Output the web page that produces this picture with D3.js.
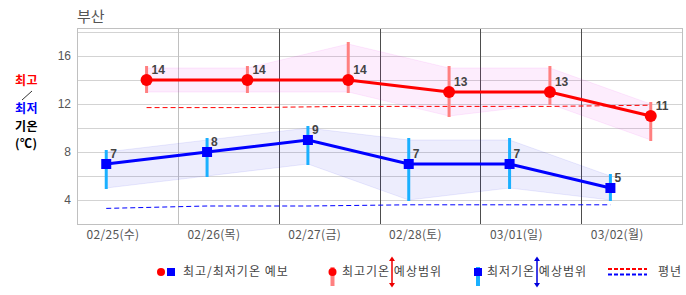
<!DOCTYPE html>
<html>
<head>
<meta charset="utf-8">
<script src="https://cdn.jsdelivr.net/npm/d3@7"></script>
<style>
	body { margin: 0; background: #fff; }
	svg { display: block; font-family: "Noto Sans CJK KR", sans-serif; }
</style>
</head>
<body>
<svg></svg>
<script>
const dates = ["02/25(수)", "02/26(목)", "02/27(금)", "02/28(토)", "03/01(일)", "03/02(월)"];
const highTemp = [14, 14, 14, 13, 13, 11];
const highMax = [15, 15, 17, 15, 15, 12];
const highMin = [13, 13, 13, 11, 12, 9];
const lowTemp = [7, 8, 9, 7, 7, 5];
const lowMax = [8, 9, 10, 9, 9, 6];
const lowMin = [5, 6, 7, 4, 5, 4];
const highNormal = [11.7, 11.7, 11.8, 11.8, 11.8, 11.9];
const lowNormal = [3.3, 3.5, 3.5, 3.6, 3.6, 3.6];
const yTicks = [4, 8, 12, 16];
const gridValues = [2, 4, 6, 8, 10, 12, 14, 16, 18];

const size = { w: 686, h: 295 };
const plot = { l: 77, r: 682, t: 28, b: 224 };
const svg = d3.select("svg").attr("width", size.w).attr("height", size.h);

const x = d3.scaleBand().domain(dates).range([plot.l, plot.r]);
const y = d3.scaleLinear().domain([2, 18]).range([plot.b, 32]);
const bw = x.bandwidth();
// blue points sit left in each column, red points further right
const xLow = (i) => x(dates[i]) + bw * 0.29;
const xHigh = (i) => x(dates[i]) + bw * 0.69;

// title
svg.append("text").attr("x", 77).attr("y", 22)
	.attr("font-size", 15).attr("fill", "#555").text("부산");

// left label
const lab = svg.append("g").attr("font-size", 12).attr("font-weight", "bold")
	.attr("letter-spacing", 0.5);
lab.append("text").attr("x", 15).attr("y", 85).attr("fill", "#f00").text("최고");
lab.append("line").attr("x1", 32).attr("y1", 91).attr("x2", 22).attr("y2", 100)
	.attr("stroke", "#000").attr("stroke-width", 0.8);
lab.append("text").attr("x", 15).attr("y", 113).attr("fill", "#00f").text("최저");
lab.append("text").attr("x", 15).attr("y", 131).attr("fill", "#000").text("기온");
lab.append("text").attr("x", 15).attr("y", 148).attr("fill", "#000").text("(℃)");

// grid
const grid = svg.append("g");
grid.selectAll("line.h").data(gridValues).enter().append("line")
	.attr("x1", plot.l).attr("x2", plot.r)
	.attr("y1", (d) => y(d) + 0.5).attr("y2", (d) => y(d) + 0.5)
	.attr("stroke", "#d3d3d3");
grid.selectAll("line.v").data(dates.slice(1)).enter().append("line")
	.attr("x1", (d) => Math.round(x(d)) + 0.5).attr("x2", (d) => Math.round(x(d)) + 0.5)
	.attr("y1", plot.t).attr("y2", plot.b)
	.attr("stroke", (d, i) => (i === 0 ? "#c0c0c0" : "#4d4d4d"));
grid.append("rect").attr("x", plot.l + 0.5).attr("y", plot.t + 0.5)
	.attr("width", plot.r - plot.l).attr("height", plot.b - plot.t)
	.attr("fill", "none").attr("stroke", "#c0c0c0");

// y axis
const yAxis = svg.append("g").attr("transform", `translate(${plot.l - 6},0)`)
	.call(d3.axisLeft(y).tickValues(yTicks).tickSize(0).tickPadding(0));
yAxis.select(".domain").remove();
yAxis.selectAll("text").attr("font-size", 12).attr("fill", "#555")
	.attr("font-family", "Liberation Sans, Arial, sans-serif");

// x labels
svg.append("g").selectAll("text").data(dates).enter().append("text")
	.attr("x", (d) => x(d) + 36).attr("y", 239)
	.attr("text-anchor", "middle").attr("font-size", 12).attr("fill", "#555")
	.attr("letter-spacing", 0.3)
	.text((d) => d);

// bands
const idx = d3.range(dates.length);
const highArea = d3.area().x((i) => xHigh(i)).y0((i) => y(highMin[i])).y1((i) => y(highMax[i]));
const lowArea = d3.area().x((i) => xLow(i)).y0((i) => y(lowMin[i])).y1((i) => y(lowMax[i]));
svg.append("path").attr("d", highArea(idx))
	.attr("fill", "#e000e0").attr("fill-opacity", 0.07)
	.attr("stroke", "#e000e0").attr("stroke-opacity", 0.08);
svg.append("path").attr("d", lowArea(idx))
	.attr("fill", "#0000e0").attr("fill-opacity", 0.07)
	.attr("stroke", "#0000e0").attr("stroke-opacity", 0.08);

// normals
svg.append("path")
	.attr("d", d3.line().x((i) => xHigh(i)).y((i) => y(highNormal[i]))(idx))
	.attr("fill", "none").attr("stroke", "#f00").attr("stroke-dasharray", "5,3");
svg.append("path")
	.attr("d", d3.line().x((i) => xLow(i)).y((i) => y(lowNormal[i]))(idx))
	.attr("fill", "none").attr("stroke", "#00f").attr("stroke-dasharray", "5,3");

// range bars
svg.append("g").selectAll("line").data(idx).enter().append("line")
	.attr("x1", (i) => xHigh(i)).attr("x2", (i) => xHigh(i))
	.attr("y1", (i) => y(highMax[i]) - 2).attr("y2", (i) => y(highMin[i]) + 1)
	.attr("stroke", "#ff8080").attr("stroke-width", 3);
svg.append("g").selectAll("line").data(idx).enter().append("line")
	.attr("x1", (i) => xLow(i)).attr("x2", (i) => xLow(i))
	.attr("y1", (i) => y(lowMax[i]) - 2).attr("y2", (i) => y(lowMin[i]) + 1)
	.attr("stroke", "#1ab0ff").attr("stroke-width", 3);

// lines
svg.append("path")
	.attr("d", d3.line().x((i) => xHigh(i)).y((i) => y(highTemp[i]))(idx))
	.attr("fill", "none").attr("stroke", "#f00").attr("stroke-width", 3);
svg.append("path")
	.attr("d", d3.line().x((i) => xLow(i)).y((i) => y(lowTemp[i]))(idx))
	.attr("fill", "none").attr("stroke", "#00f").attr("stroke-width", 3);

// markers
svg.append("g").selectAll("circle").data(idx).enter().append("circle")
	.attr("cx", (i) => xHigh(i)).attr("cy", (i) => y(highTemp[i])).attr("r", 6)
	.attr("fill", "#f00");
svg.append("g").selectAll("rect").data(idx).enter().append("rect")
	.attr("x", (i) => xLow(i) - 5).attr("y", (i) => y(lowTemp[i]) - 5)
	.attr("width", 10).attr("height", 10).attr("fill", "#00f");

// value labels
const vl = svg.append("g").attr("font-size", 12).attr("font-weight", "bold")
	.attr("fill", "#444").attr("font-family", "Liberation Sans, Arial, sans-serif");
vl.selectAll("text.h").data(idx).enter().append("text")
	.attr("x", (i) => xHigh(i) + 5).attr("y", (i) => y(highTemp[i]) - 6)
	.text((i) => highTemp[i]);
vl.selectAll("text.l").data(idx).enter().append("text")
	.attr("x", (i) => xLow(i) + 4).attr("y", (i) => y(lowTemp[i]) - 6)
	.text((i) => lowTemp[i]);

// legend
const lg = svg.append("g").attr("font-size", 12).attr("fill", "#444")
	.attr("letter-spacing", 1);
lg.append("circle").attr("cx", 161).attr("cy", 272).attr("r", 4).attr("fill", "#f00");
lg.append("rect").attr("x", 167).attr("y", 268).attr("width", 8).attr("height", 8).attr("fill", "#00f");
lg.append("text").attr("x", 183).attr("y", 276).text("최고/최저기온 예보");

lg.append("line").attr("x1", 332.5).attr("x2", 332.5).attr("y1", 267).attr("y2", 286)
	.attr("stroke", "#ff8080").attr("stroke-width", 4);
lg.append("circle").attr("cx", 332.5).attr("cy", 272).attr("r", 4).attr("fill", "#f00");
lg.append("text").attr("x", 342).attr("y", 276).text("최고기온 예상범위");

lg.append("line").attr("x1", 478).attr("x2", 478).attr("y1", 267).attr("y2", 286)
	.attr("stroke", "#1ab0ff").attr("stroke-width", 4);
lg.append("rect").attr("x", 474).attr("y", 268).attr("width", 8).attr("height", 8).attr("fill", "#00f");
lg.append("text").attr("x", 487).attr("y", 276).text("최저기온 예상범위");

function arrow(cx, color) {
	const a = lg.append("g");
	a.append("line").attr("x1", cx).attr("x2", cx).attr("y1", 259).attr("y2", 285)
		.attr("stroke", color).attr("stroke-width", 1.5);
	a.append("path").attr("d", `M${cx - 3},261 L${cx},256.5 L${cx + 3},261 Z`).attr("fill", color);
	a.append("path").attr("d", `M${cx - 3},283 L${cx},287.5 L${cx + 3},283 Z`).attr("fill", color);
}
arrow(392, "#e00");
arrow(537, "#00d");

lg.append("line").attr("x1", 608).attr("x2", 647).attr("y1", 269).attr("y2", 269)
	.attr("stroke", "#f00").attr("stroke-width", 2).attr("stroke-dasharray", "4,2");
lg.append("line").attr("x1", 608).attr("x2", 647).attr("y1", 274.5).attr("y2", 274.5)
	.attr("stroke", "#00f").attr("stroke-width", 2).attr("stroke-dasharray", "4,2");
lg.append("text").attr("x", 658).attr("y", 276).text("평년");
</script>
</body>
</html>
